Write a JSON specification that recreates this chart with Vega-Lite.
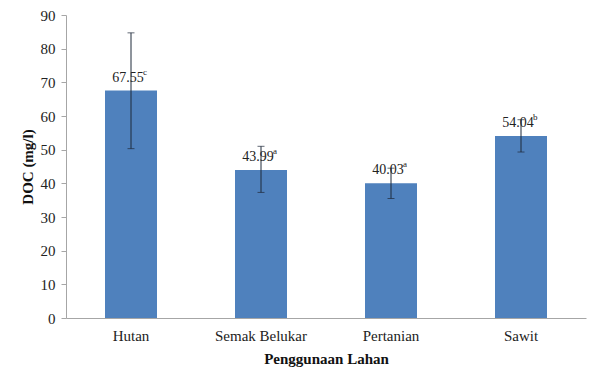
{
  "$schema": "https://vega.github.io/schema/vega-lite/v6.json",
  "width": 520,
  "height": 303,
  "autosize": {"type": "none"},
  "padding": {"left": 66, "top": 15, "right": 14, "bottom": 64},
  "background": "white",
  "config": {
    "view": {"stroke": null},
    "font": "Liberation Serif",
    "text": {"font": "Liberation Serif"},
    "axis": {
      "labelFont": "Liberation Serif",
      "titleFont": "Liberation Serif",
      "labelColor": "#222222",
      "titleColor": "#111111",
      "domainColor": "#A6A6A6",
      "tickColor": "#A6A6A6",
      "grid": false,
      "labelOverlap": false
    },
    "axisY": {
      "tickCount": 10,
      "labelFontSize": 15,
      "labelPadding": 6,
      "tickSize": 5,
      "titleFontSize": 15,
      "titleFontWeight": "bold",
      "titlePadding": 5
    }
  },
  "data": {
    "values": [
      {"lahan": "Hutan", "doc": 67.55, "lo": 50.3, "hi": 84.7, "sup": "c"},
      {"lahan": "Semak Belukar", "doc": 43.99, "lo": 37.3, "hi": 51.0, "sup": "a"},
      {"lahan": "Pertanian", "doc": 40.03, "lo": 35.5, "hi": 44.5, "sup": "a"},
      {"lahan": "Sawit", "doc": 54.04, "lo": 49.3, "hi": 58.9, "sup": "b"}
    ]
  },
  "encoding": {
    "x": {
      "field": "lahan",
      "type": "nominal",
      "sort": null,
      "scale": {"paddingInner": 0.6, "paddingOuter": 0.3},
      "axis": {
        "title": "Penggunaan Lahan",
        "labelAngle": 0,
        "labelFontSize": 15,
        "labelPadding": 10,
        "ticks": false,
        "titleFontSize": 15,
        "titleFontWeight": "bold",
        "titlePadding": 8
      }
    }
  },
  "layer": [
    {
      "mark": {"type": "bar", "color": "#4F81BD"},
      "encoding": {
        "y": {
          "field": "doc",
          "type": "quantitative",
          "scale": {"domain": [0, 90], "nice": false},
          "axis": {"title": "DOC (mg/l)", "values": [0, 10, 20, 30, 40, 50, 60, 70, 80, 90]}
        }
      }
    },
    {
      "mark": {"type": "text", "font": "Liberation Serif", "fontSize": 14, "dx": -3, "dy": -9, "baseline": "alphabetic", "color": "#222222"},
      "encoding": {
        "y": {"field": "doc", "type": "quantitative", "axis": {"title": "DOC (mg/l)", "values": [0, 10, 20, 30, 40, 50, 60, 70, 80, 90]}},
        "text": {"field": "doc", "type": "quantitative", "format": ".2f"}
      }
    },
    {
      "mark": {"type": "text", "font": "Liberation Serif", "fontSize": 9, "dx": 12, "dy": -16, "align": "left", "baseline": "alphabetic", "color": "#222222"},
      "encoding": {
        "y": {"field": "doc", "type": "quantitative", "axis": {"title": "DOC (mg/l)", "values": [0, 10, 20, 30, 40, 50, 60, 70, 80, 90]}},
        "text": {"field": "sup"}
      }
    },
    {
      "mark": {"type": "rule", "color": "#1F2A3A", "strokeWidth": 1},
      "encoding": {
        "y": {"field": "lo", "type": "quantitative", "axis": {"title": "DOC (mg/l)", "values": [0, 10, 20, 30, 40, 50, 60, 70, 80, 90]}},
        "y2": {"field": "hi"}
      }
    },
    {
      "mark": {"type": "tick", "color": "#1F2A3A", "thickness": 1, "size": 7, "orient": "horizontal"},
      "encoding": {
        "y": {"field": "lo", "type": "quantitative", "axis": {"title": "DOC (mg/l)", "values": [0, 10, 20, 30, 40, 50, 60, 70, 80, 90]}}
      }
    },
    {
      "mark": {"type": "tick", "color": "#1F2A3A", "thickness": 1, "size": 7, "orient": "horizontal"},
      "encoding": {
        "y": {"field": "hi", "type": "quantitative", "axis": {"title": "DOC (mg/l)", "values": [0, 10, 20, 30, 40, 50, 60, 70, 80, 90]}}
      }
    }
  ]
}
